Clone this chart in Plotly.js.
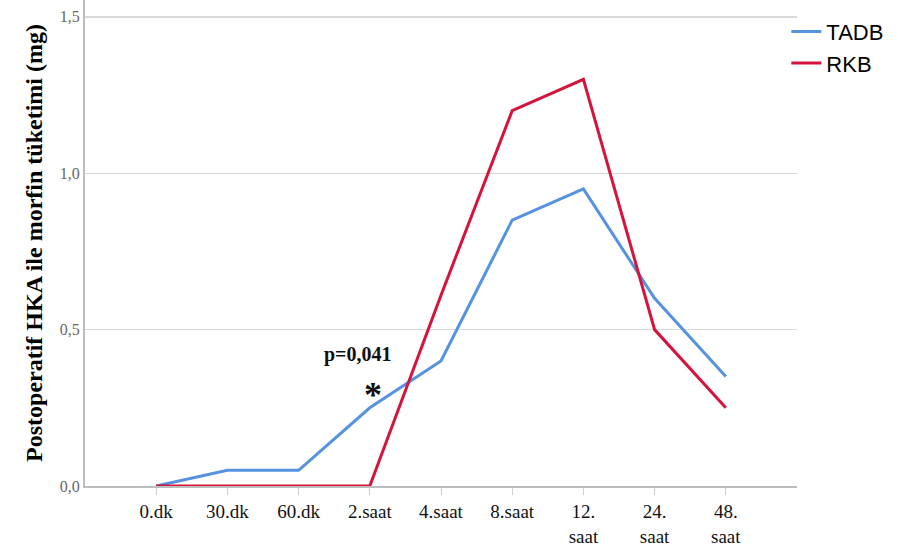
<!DOCTYPE html>
<html><head><meta charset="utf-8">
<script src="https://cdn.plot.ly/plotly-3.0.1.min.js"></script>
<style>html,body{margin:0;padding:0;background:#fff}#chart{width:898px;height:548px}</style>
</head><body><div id="chart"></div>
<script>
const categories = ["0.dk","30.dk","60.dk","2.saat","4.saat","8.saat","12.<br>saat","24.<br>saat","48.<br>saat"];
const tadb = [0, 0.05, 0.05, 0.25, 0.40, 0.85, 0.95, 0.60, 0.35];
const rkb  = [0, 0, 0, 0, 0.61, 1.20, 1.30, 0.50, 0.25];
const yTicks = [0, 0.5, 1.0, 1.5];
const xIdx = categories.map((c,i)=>i);

const traces = [
  {x: xIdx, y: tadb, name: "TADB", type: "scatter", mode: "lines",
   line: {color: "#5592e0", width: 3}},
  {x: xIdx, y: rkb, name: "RKB", type: "scatter", mode: "lines",
   line: {color: "#d5133c", width: 3}}
];

const layout = {
  width: 898, height: 548,
  margin: {l: 85, r: 101, t: 0, b: 62},
  paper_bgcolor: "#fff", plot_bgcolor: "#fff",
  separators: ",.",
  showlegend: true,
  legend: {x: 0.985, y: 0.978, xanchor: "left", yanchor: "top",
    font: {family: "Liberation Sans, Arial, sans-serif", size: 22, color: "#000"},
    tracegroupgap: 0, itemwidth: 30, bgcolor: "rgba(0,0,0,0)"},
  xaxis: {
    type: "linear", range: [-1, 9], tickmode: "array", tickvals: xIdx, ticktext: categories,
    showgrid: false, zeroline: false, showline: true, linecolor: "#bdbdbd", linewidth: 2,
    ticks: "outside", ticklen: 7, tickcolor: "#cfcfcf", tickwidth: 1,
    tickfont: {family: "Liberation Serif, Times New Roman, serif", size: 19, color: "#111"}
  },
  yaxis: {
    range: [0, 1.554], tickmode: "array", tickvals: yTicks, tickformat: ".1f",
    showgrid: true, gridcolor: "#d9d9d9", gridwidth: 1.5, zeroline: false,
    showline: true, linecolor: "#bdbdbd", linewidth: 2, ticks: "", ticklen: 0,
    tickfont: {family: "Liberation Serif, Times New Roman, serif", size: 16, color: "#666"},
    title: {text: "<b>Postoperatif HKA ile morfin tüketimi (mg)</b>", standoff: 10,
      font: {family: "Liberation Serif, Times New Roman, serif", size: 24, color: "#000"}}
  },
  annotations: [
    {x: 3, y: 0.42, xref: "x", yref: "y", text: "<b>p=0,041</b>", showarrow: false,
     xanchor: "center", yanchor: "middle", xshift: -12,
     font: {family: "Liberation Serif, Times New Roman, serif", size: 20, color: "#111"}},
    {x: 3, y: 0.29, xref: "x", yref: "y", text: "<b>*</b>", showarrow: false,
     xanchor: "center", yanchor: "middle", xshift: 3,
     font: {family: "Liberation Serif, Times New Roman, serif", size: 36, color: "#111"}}
  ]
};
Plotly.newPlot("chart", traces, layout, {displayModeBar: false, staticPlot: true});
</script></body></html>
